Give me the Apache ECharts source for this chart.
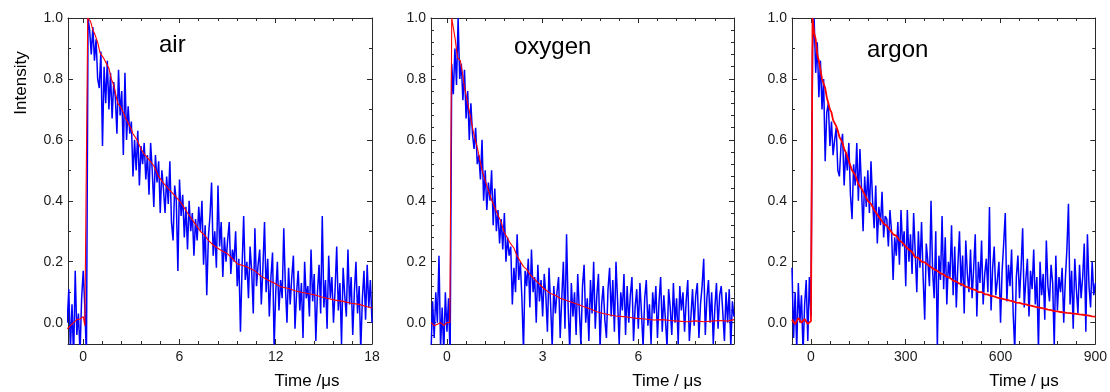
<!DOCTYPE html>
<html><head><meta charset="utf-8">
<script src="https://cdn.jsdelivr.net/npm/echarts@6/dist/echarts.min.js"></script>
<style>html,body{margin:0;padding:0;background:#fff}#c{width:1110px;height:392px}</style>
</head><body><div id="c"></div>
<script>
// ---------- DATA ----------
const yTicks = [0, 0.2, 0.4, 0.6, 0.8, 1.0];
const airXTicks = [0, 6, 12, 18];
const oxyXTicks = [0, 3, 6];
const argXTicks = [0, 300, 600, 900];
const panelTitles = ['air', 'oxygen', 'argon'];
const xAxisTitles = ['Time /\u03bcs', 'Time / \u03bcs', 'Time / \u03bcs'];
const yAxisTitle = 'Intensity';

// air: sampled every 0.1 µs starting at -1.0 µs
const airT0 = -1.0, airDt = 0.1;
const airSignal = [
  0.0, 0.11, -0.09, 0.06, -0.12, 0.17, -0.04, 0.03, -0.1, 0.08,
  0.17, 0.05, -0.12, 1.0, 0.96, 0.88, 0.97, 0.86, 0.93, 0.8,
  0.77, 0.89, 0.58, 0.84, 0.72, 0.86, 0.7, 0.82, 0.67, 0.79,
  0.74, 0.62, 0.83, 0.68, 0.76, 0.55, 0.82, 0.6, 0.71, 0.62,
  0.66, 0.48, 0.6, 0.5, 0.63, 0.45, 0.58, 0.52, 0.59, 0.47,
  0.55, 0.42, 0.59, 0.5, 0.38, 0.55, 0.46, 0.53, 0.36, 0.5,
  0.44, 0.36, 0.48, 0.39, 0.53, 0.33, 0.27, 0.45, 0.4, 0.17,
  0.47, 0.35, 0.42, 0.28, 0.38, 0.24, 0.4, 0.3, 0.36, 0.22,
  0.34, 0.27, 0.38, 0.3, 0.4, 0.19, 0.32, 0.09, 0.28, 0.35,
  0.46, 0.22, 0.3, 0.18, 0.45, 0.25, 0.33, 0.15, 0.28, 0.2,
  0.27, 0.33, 0.16, 0.24, 0.2, 0.3, 0.12, 0.21, -0.03, 0.18,
  0.35, 0.14, 0.2, 0.08, 0.25, 0.17, 0.03, 0.31, 0.12, 0.19,
  0.24, 0.06, 0.18, 0.33, 0.1, 0.21, 0.02, 0.15, 0.23, -0.08,
  0.1, 0.2, 0.04, 0.14, 0.08, 0.31, 0.12, 0.0, 0.18, 0.06,
  0.15, 0.22, -0.02, 0.1, 0.17, 0.04, 0.13, -0.05, 0.2, 0.08,
  0.12, 0.02, 0.24, 0.07, 0.16, -0.06, 0.1, 0.19, 0.03, 0.35,
  0.05, 0.14, -0.02, 0.22, 0.08, 0.15, 0.0, 0.11, 0.25, 0.04,
  0.13, -0.07, 0.18, 0.09, 0.02, 0.24, 0.06, 0.15, -0.04, 0.1,
  0.2, 0.03, 0.12, -0.09, 0.08, 0.17, 0.01, 0.19, 0.05, 0.14,
  0.0
];
const airFit = [
  [-1.0,-0.02],[-0.8,-0.01],[-0.6,0.0],[-0.4,0.01],[-0.2,0.012],[0.0,0.02],[0.1,-0.01],[0.18,-0.015],
  [0.28,1.0],[0.45,0.99],[0.6,0.96],[0.7,0.95],[0.9,0.92],[1.05,0.885],[1.25,0.87],[1.45,0.85],[1.6,0.835],
  [1.75,0.8],[1.9,0.78],[2.15,0.72],[2.3,0.71],[2.5,0.69],[2.7,0.665],[2.95,0.64],[3.1,0.62],[3.35,0.6],
  [3.6,0.57],[3.8,0.553],[4.1,0.535],[4.4,0.515],[4.7,0.48],[5.0,0.458],[5.3,0.44],[5.65,0.42],[6.0,0.4],
  [6.2,0.385],[6.5,0.36],[6.9,0.33],[7.3,0.3],[7.6,0.285],[7.8,0.27],[8.1,0.255],[8.5,0.24],[9.0,0.226],
  [9.3,0.21],[9.6,0.193],[10.1,0.185],[10.4,0.178],[10.7,0.17],[11.1,0.152],[11.5,0.14],[11.9,0.13],
  [12.3,0.118],[12.8,0.112],[13.2,0.105],[13.6,0.1],[14.0,0.096],[14.5,0.09],[14.8,0.085],[15.2,0.08],
  [15.7,0.074],[16.2,0.07],[16.7,0.064],[17.2,0.06],[17.7,0.052],[18.0,0.048]
];

// oxygen: sampled every 0.05 µs starting at -0.5 µs
const oxyT0 = -0.5, oxyDt = 0.05;
const oxySignal = [
  -0.1, 0.07, -0.05, 0.1, 0.0, 0.22, -0.08, 0.05, -0.1, 0.1,
  -0.03, 0.08, -0.12, 0.85, 0.75, 0.9, 0.78, 1.0, 0.8, 0.85,
  0.73, 0.83, 0.67, 0.76, 0.6, 0.72, 0.62, 0.57, 0.64, 0.52,
  0.55, 0.47, 0.6, 0.4, 0.5, 0.37, 0.46, 0.4, 0.5, 0.32,
  0.44, 0.3, 0.37, 0.26, 0.34, 0.24, 0.36, 0.2, 0.28, 0.22,
  0.25, 0.06, 0.18, 0.1, 0.29, 0.14, 0.2, 0.08, -0.09, 0.17,
  0.12, 0.21, 0.05, 0.24, 0.1, 0.15, 0.0, 0.19, 0.07, 0.14,
  0.02, 0.16, 0.09, -0.03, 0.18, 0.06, -0.08, 0.12, 0.03, 0.1,
  0.15, -0.05, 0.08, 0.2, -0.02, 0.29, 0.05, -0.09, 0.13, 0.02,
  0.1, -0.04, 0.16, 0.04, -0.07, 0.12, 0.19, 0.0, 0.08, -0.06,
  0.14, 0.03, 0.2, -0.02, 0.09, 0.16, -0.08, 0.06, 0.12, 0.01,
  -0.05, 0.11, 0.18, 0.02, 0.14, -0.03, 0.2, 0.07, -0.07, 0.1,
  0.04, 0.16, -0.04, 0.12, 0.0, 0.09, 0.15, -0.06, 0.05, 0.11,
  -0.02, 0.13, 0.03, -0.08, 0.08, 0.14, -0.01, 0.06, -0.07, 0.1,
  0.03, 0.12, -0.05, 0.07, 0.15, -0.03, 0.09, 0.01, -0.08, 0.11,
  0.05, -0.04, 0.13, 0.0, 0.08, -0.07, 0.12, 0.04, 0.1, -0.03,
  0.07, 0.14, -0.06, 0.02, 0.11, -0.01, 0.09, 0.13, -0.05, 0.06,
  0.12, 0.21, -0.04, 0.08, 0.14, 0.0, 0.1, -0.07, 0.05, 0.13,
  -0.02, 0.09, 0.12, 0.03, -0.06, 0.1, 0.0, 0.11, -0.08, 0.07,
  0.02
];
const oxyFit = [
  [-0.5,0.0],[-0.4,-0.01],[-0.3,-0.005],[-0.2,0.0],[-0.1,-0.01],[0.0,0.0],[0.06,0.005],[0.09,0.0],
  [0.15,1.0],[0.26,0.93],[0.33,0.87],[0.42,0.86],[0.47,0.83],[0.54,0.78],[0.63,0.73],[0.73,0.68],
  [0.84,0.62],[0.94,0.58],[1.02,0.54],[1.1,0.5],[1.25,0.45],[1.41,0.4],[1.57,0.36],[1.7,0.33],[1.78,0.3],
  [1.99,0.26],[2.1,0.245],[2.19,0.22],[2.4,0.184],[2.5,0.175],[2.61,0.157],[2.82,0.135],[3.03,0.113],
  [3.24,0.096],[3.4,0.09],[3.55,0.08],[3.87,0.069],[4.05,0.062],[4.28,0.053],[4.5,0.045],[4.7,0.036],
  [4.9,0.03],[5.12,0.025],[5.3,0.022],[5.54,0.02],[5.75,0.017],[5.96,0.014],[6.2,0.012],[6.48,0.009],
  [6.75,0.01],[7.0,0.007],[7.25,0.005],[7.52,0.003],[7.8,0.006],[8.05,0.003],[8.3,0.005],[8.57,0.007],
  [8.8,0.005],[9.0,0.01]
];

// argon: sampled every 5 µs starting at -60 µs
const argT0 = -60, argDt = 5;
const argSignal = [
  0.18, -0.05, 0.1, -0.09, 0.13, 0.0, 0.09, -0.1, 0.06, 0.14, -0.06, 0.15, 0.02,
  0.9, 1.0, 0.82, 0.92, 0.74, 0.86, 0.7, 0.8, 0.53, 0.69,
  0.72, 0.58, 0.66, 0.55, 0.6, 0.64, 0.5, 0.48, 0.58, 0.62,
  0.45, 0.56, 0.5, 0.59, 0.42, 0.34, 0.52, 0.45, 0.59, 0.4,
  0.57, 0.44, 0.3, 0.48, 0.38, 0.5, 0.36, 0.53, 0.4, 0.31,
  0.45, 0.26, 0.38, 0.32, 0.43, 0.28, 0.35, 0.34, 0.25, 0.37,
  0.3, 0.14, 0.28, 0.22, 0.33, 0.19, 0.37, 0.25, 0.3, 0.12,
  0.37, 0.2, 0.29, 0.16, 0.36, 0.23, 0.1, 0.3, 0.18, 0.33,
  0.15, 0.01, 0.26, 0.2, 0.12, 0.4, 0.17, 0.08, 0.3, -0.08,
  0.22, 0.14, 0.35, 0.11, 0.28, 0.06, 0.2, 0.15, 0.32, 0.09,
  0.25, 0.05, 0.19, 0.3, 0.12, 0.22, 0.03, 0.27, 0.16, 0.1,
  0.24, 0.08, 0.18, 0.29, 0.02, 0.2, 0.13, 0.27, 0.06, 0.16,
  0.21, 0.1, 0.38, 0.04, 0.18, 0.25, 0.09, 0.14, 0.2, 0.0,
  0.17, 0.26, 0.36, 0.07, 0.19, 0.12, 0.24, 0.03, -0.09, 0.15,
  0.22, 0.08, 0.18, 0.31, 0.05, 0.14, 0.21, 0.02, 0.17, 0.11,
  0.24, 0.06, 0.15, -0.09, 0.2, 0.09, 0.16, 0.01, 0.27, 0.12,
  0.07, 0.19, 0.13, -0.08, 0.22, 0.04, 0.15, 0.1, 0.18, 0.0,
  0.14, 0.24, 0.39, 0.06, 0.17, -0.02, 0.21, 0.11, 0.03, 0.19,
  0.08, 0.15, 0.26, -0.03, 0.29, 0.12, 0.05, 0.2, 0.09, 0.13
];
const argFit = [
  [-60,0.01],[-50,-0.005],[-40,0.015],[-30,0.0],[-20,0.012],[-10,-0.004],[0,0.005],[3,0.0],
  [5,1.0],[10,0.95],[15,0.93],[20,0.88],[25,0.86],[30,0.83],[35,0.8],[40,0.8],[45,0.77],[50,0.74],
  [55,0.72],[60,0.7],[65,0.69],[70,0.665],[75,0.67],[80,0.645],[85,0.63],[90,0.61],[95,0.6],[100,0.59],
  [105,0.57],[110,0.56],[115,0.545],[120,0.53],[125,0.525],[130,0.5],[135,0.495],[140,0.485],[145,0.47],
  [150,0.455],[160,0.44],[165,0.445],[170,0.42],[180,0.4],[185,0.405],[190,0.39],[200,0.37],[210,0.355],
  [215,0.36],[220,0.34],[230,0.325],[240,0.318],[245,0.32],[250,0.305],[260,0.29],[265,0.296],[270,0.285],
  [280,0.27],[290,0.262],[295,0.266],[300,0.25],[310,0.24],[320,0.232],[325,0.236],[330,0.215],[340,0.213],
  [350,0.2],[355,0.206],[360,0.198],[370,0.19],[380,0.182],[385,0.188],[390,0.175],[400,0.17],[410,0.162],
  [420,0.158],[425,0.164],[430,0.15],[440,0.147],[450,0.138],[455,0.143],[460,0.135],[470,0.128],[480,0.125],
  [485,0.13],[490,0.118],[500,0.115],[510,0.11],[515,0.114],[520,0.108],[530,0.1],[540,0.1],[550,0.094],
  [555,0.099],[560,0.092],[570,0.088],[580,0.086],[585,0.09],[590,0.082],[600,0.08],[610,0.077],[620,0.075],
  [625,0.079],[630,0.072],[640,0.07],[650,0.066],[655,0.07],[660,0.065],[670,0.062],[680,0.06],[685,0.064],
  [690,0.057],[700,0.055],[710,0.052],[715,0.056],[720,0.05],[730,0.048],[740,0.046],[745,0.05],[750,0.043],
  [760,0.041],[770,0.038],[775,0.042],[780,0.037],[790,0.035],[800,0.034],[805,0.038],[810,0.032],[820,0.031],
  [830,0.03],[835,0.034],[840,0.029],[850,0.027],[860,0.026],[865,0.03],[870,0.025],[880,0.023],[885,0.027],
  [890,0.021],[900,0.02]
];

// ---------- CHART ----------
const FONT = '"Liberation Sans", Arial, Helvetica, sans-serif';
const AX = '#2a2a2a';
const Y_MIN = -0.07, Y_MAX = 1.0;

const panels = [
  {t0: airT0, dt: airDt, sig: airSignal, fit: airFit, xMin: -0.95, xMax: 18, xTicks: airXTicks, xMinorStep: 1.2, yMinorStep: 0.1, left: 68, width: 304, fitW: 1.1, title: panelTitles[0], titleX: 159, titleY: 45, xNameX: 307},
  {t0: oxyT0, dt: oxyDt, sig: oxySignal, fit: oxyFit, xMin: -0.5, xMax: 9, xTicks: oxyXTicks, xMinorStep: 0.6, yMinorStep: 0.04, left: 431, width: 303, fitW: 1.1, title: panelTitles[1], titleX: 514, titleY: 47, xNameX: 667},
  {t0: argT0, dt: argDt, sig: argSignal, fit: argFit, xMin: -60, xMax: 900, xTicks: argXTicks, xMinorStep: 60, yMinorStep: 0.1, left: 792, width: 304, fitW: 1.8, title: panelTitles[2], titleX: 867, titleY: 50, xNameX: 1024}
];

function minorValues(min, max, step, majors) {
  const out = [];
  const k0 = Math.ceil(min / step - 1e-9), k1 = Math.floor(max / step + 1e-9);
  for (let k = k0; k <= k1; k++) {
    const v = Math.round(k * step * 1e6) / 1e6;
    if (!majors.some(m => Math.abs(m - v) < 1e-6)) out.push(v);
  }
  return out;
}

const grids = [], xAxes = [], yAxes = [], series = [], graphics = [];
panels.forEach((p, i) => {
  grids.push({left: p.left, top: 18, width: p.width, height: 326, containLabel: false});
  const xMinor = minorValues(p.xMin, p.xMax, p.xMinorStep, p.xTicks);
  const yMinor = minorValues(Y_MIN, Y_MAX, p.yMinorStep, yTicks);
  ['bottom', 'top'].forEach(pos => {
    xAxes.push({
      gridIndex: i, type: 'value', position: pos, min: p.xMin, max: p.xMax,
      splitLine: {show: false},
      axisLine: {show: true, onZero: false, lineStyle: {color: AX, width: 1}},
      axisTick: {show: true, inside: true, length: 5, customValues: p.xTicks, lineStyle: {color: AX, width: 1}},
      axisLabel: pos === 'bottom' ? {show: true, customValues: p.xTicks, margin: 6, fontSize: 14, fontFamily: FONT, color: '#1a1a1a', showMinLabel: true, showMaxLabel: true, formatter: v => String(v)} : {show: false}
    });
    xAxes.push({
      gridIndex: i, type: 'value', position: pos, min: p.xMin, max: p.xMax,
      splitLine: {show: false}, axisLine: {show: false, onZero: false},
      axisTick: {show: true, inside: true, length: 3, customValues: xMinor, lineStyle: {color: AX, width: 1}},
      axisLabel: {show: false}
    });
  });
  ['left', 'right'].forEach(pos => {
    yAxes.push({
      gridIndex: i, type: 'value', position: pos, min: Y_MIN, max: Y_MAX,
      splitLine: {show: false},
      axisLine: {show: true, onZero: false, lineStyle: {color: AX, width: 1}},
      axisTick: {show: true, inside: true, length: 5, customValues: yTicks, lineStyle: {color: AX, width: 1}},
      axisLabel: pos === 'left' ? {show: true, customValues: yTicks, margin: 5, fontSize: 14, fontFamily: FONT, color: '#1a1a1a', showMinLabel: true, showMaxLabel: true, formatter: v => v.toFixed(1)} : {show: false}
    });
    yAxes.push({
      gridIndex: i, type: 'value', position: pos, min: Y_MIN, max: Y_MAX,
      splitLine: {show: false}, axisLine: {show: false, onZero: false},
      axisTick: {show: true, inside: true, length: 3, customValues: yMinor, lineStyle: {color: AX, width: 1}},
      axisLabel: {show: false}
    });
  });
  series.push({
    type: 'line', xAxisIndex: i * 4, yAxisIndex: i * 4, showSymbol: false, clip: true,
    lineStyle: {color: '#0000ff', width: 1.5}, z: 2,
    data: p.sig.map((v, k) => [p.t0 + k * p.dt, v])
  });
  series.push({
    type: 'line', xAxisIndex: i * 4, yAxisIndex: i * 4, showSymbol: false, clip: true,
    lineStyle: {color: '#ff0000', width: p.fitW}, z: 3,
    data: p.fit
  });
  graphics.push({type: 'text', x: p.titleX, y: p.titleY, style: {text: p.title, font: '24px ' + FONT, fill: '#000', align: 'left', verticalAlign: 'middle'}});
  graphics.push({type: 'text', x: p.xNameX, y: 381, style: {text: xAxisTitles[i], font: '17px ' + FONT, fill: '#000', align: 'center', verticalAlign: 'middle'}});
});
graphics.push({type: 'text', x: 21, y: 83, rotation: Math.PI / 2, style: {text: yAxisTitle, font: '17px ' + FONT, fill: '#000', align: 'center', verticalAlign: 'middle'}});

const chart = echarts.init(document.getElementById('c'), null, {renderer: 'canvas'});
chart.setOption({
  animation: false,
  backgroundColor: '#ffffff',
  grid: grids, xAxis: xAxes, yAxis: yAxes, series: series, graphic: graphics
});
</script></body></html>
